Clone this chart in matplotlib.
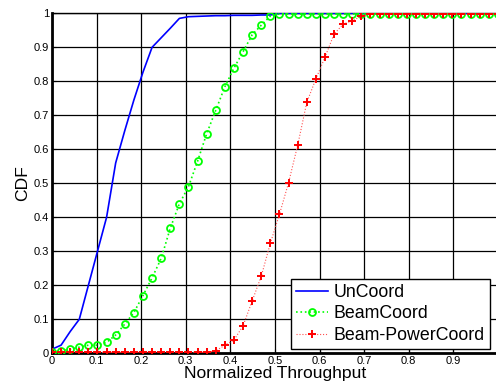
import matplotlib
matplotlib.use('Agg')
import matplotlib.pyplot as plt
import numpy as np

plt.rcParams['font.family'] = ['Liberation Sans', 'DejaVu Sans']

# throughput sample points (50 points from 0 to 1)
throughput = np.linspace(0, 1, 50)

uncoord = [0.012, 0.024, 0.064, 0.1, 0.2, 0.3, 0.4, 0.56, 0.655, 0.745,
           0.827, 0.9, 0.928, 0.956, 0.985, 0.99, 0.991, 0.992, 0.993, 0.993,
           0.994, 0.994, 0.994, 0.995, 0.995, 1.0, 1.0, 1.0, 1.0, 1.0,
           1.0, 1.0, 1.0, 1.0, 1.0, 1.0, 1.0, 1.0, 1.0, 1.0,
           1.0, 1.0, 1.0, 1.0, 1.0, 1.0, 1.0, 1.0, 1.0, 1.0]

beamcoord = [0.005, 0.007, 0.012, 0.018, 0.024, 0.024, 0.032, 0.054, 0.086, 0.12,
             0.17, 0.222, 0.279, 0.368, 0.44, 0.49, 0.565, 0.646, 0.715, 0.784,
             0.839, 0.887, 0.937, 0.965, 0.992, 0.998, 0.998, 0.998, 0.998, 0.998,
             0.998, 0.998, 0.998, 0.998, 0.998, 0.998, 0.998, 0.998, 0.998, 0.998,
             0.998, 0.998, 0.998, 0.998, 0.998, 0.998, 0.998, 0.998, 0.998, 0.998]

beam_powercoord = [0.003, 0.003, 0.003, 0.003, 0.003, 0.003, 0.003, 0.003, 0.003, 0.003,
                   0.003, 0.003, 0.003, 0.003, 0.003, 0.003, 0.003, 0.003, 0.007, 0.024,
                   0.039, 0.081, 0.154, 0.227, 0.324, 0.409, 0.502, 0.612, 0.738, 0.807,
                   0.871, 0.939, 0.968, 0.978, 0.992, 0.998, 0.998, 0.998, 0.998, 0.998,
                   0.998, 0.998, 0.998, 0.998, 0.998, 0.998, 0.998, 0.998, 0.998, 0.998]

xticks = [0, 0.1, 0.2, 0.3, 0.4, 0.5, 0.6, 0.7, 0.8, 0.9]
yticks = [0, 0.1, 0.2, 0.3, 0.4, 0.5, 0.6, 0.7, 0.8, 0.9, 1]

fig = plt.figure(figsize=(4.96, 3.91), dpi=100)
ax = fig.add_axes([0.1048, 0.0964, 0.899, 0.8696])

ax.plot(throughput, uncoord, '-', color='#0000ff', lw=1.2, label='UnCoord', zorder=3)
ax.plot(throughput, beamcoord, ':', color='#00ff00', lw=1.2, marker='o',
        markersize=5, markerfacecolor='none', markeredgewidth=1.3,
        label='BeamCoord', zorder=4)
ax.plot(throughput, beam_powercoord, ':', color='#ff5050', lw=0.8, marker='+',
        markersize=6, markeredgecolor='#ff0000', markeredgewidth=1.4,
        label='Beam-PowerCoord', zorder=5)

ax.set_xlim(0, 1)
ax.set_ylim(0, 1)
ax.set_xticks(xticks)
ax.set_xticklabels([f'{t:g}' for t in xticks])
ax.set_yticks(yticks)
ax.set_yticklabels([f'{t:g}' for t in yticks])
ax.tick_params(direction='in', labelsize=8, pad=2, length=3)
ax.grid(True, color='black', lw=0.9, ls='-')

for side in ['left', 'bottom']:
    ax.spines[side].set_linewidth(2)
ax.spines['top'].set_linewidth(1)

ax.set_xlabel('Normalized Throughput', fontsize=12.6, labelpad=0)
ax.set_ylabel('CDF', fontsize=12.6, labelpad=3)

leg = ax.legend(loc='lower right', bbox_to_anchor=(0.982, 0.012), fontsize=12.8,
                fancybox=False, framealpha=1, edgecolor='black',
                borderaxespad=0, handlelength=1.8, handletextpad=0.3,
                labelspacing=0.25, borderpad=0.3)
leg.get_frame().set_linewidth(1)

fig.savefig('out.png', dpi=100)
